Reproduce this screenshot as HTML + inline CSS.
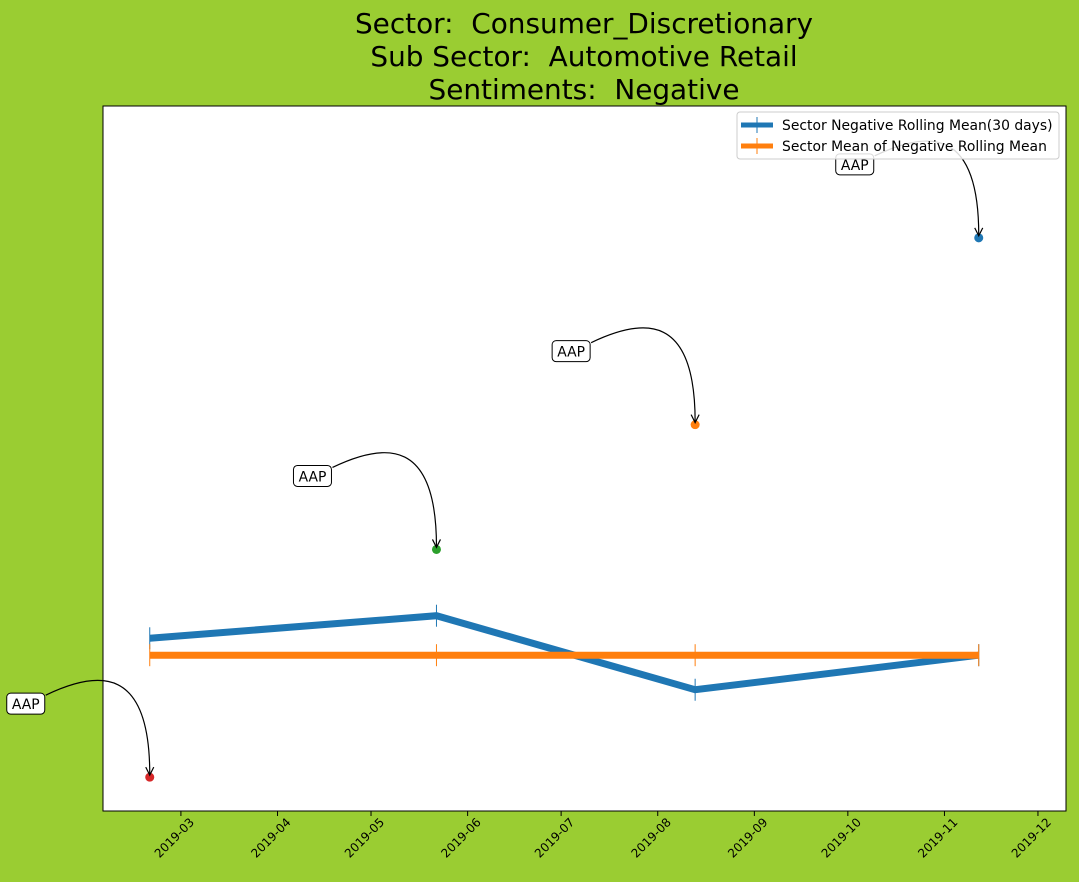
<!DOCTYPE html>
<html><head><meta charset="utf-8"><style>
body{margin:0;background:#9acd32;}
svg{display:block;font-family:"DejaVu Sans","Liberation Sans",sans-serif;}
</style></head><body>
<svg id="chart" width="1079" height="882" viewBox="0 0 1079 882" xmlns="http://www.w3.org/2000/svg">
<rect width="1079" height="882" fill="#9acd32"/>
<g font-size="27.9" text-anchor="middle" fill="#000" style="white-space:pre">
<text x="584" y="33" xml:space="preserve">Sector:  Consumer_Discretionary</text>
<text x="584" y="66" xml:space="preserve">Sub Sector:  Automotive Retail</text>
<text x="584" y="99" xml:space="preserve">Sentiments:  Negative</text>
</g>
<rect x="103" y="106" width="963" height="705" fill="#fff" stroke="#000" stroke-width="1"/>
<g id="xaxis"></g>
<g id="marks"></g>
<g id="ann"></g>
<g>
<rect x="737" y="112" width="322" height="47" rx="3" fill="#fff" fill-opacity="0.85" stroke="#ccc"/>
<line x1="741" y1="125" x2="773" y2="125" stroke="#1f77b4" stroke-width="5"/>
<line x1="757" y1="117" x2="757" y2="133" stroke="#1f77b4" stroke-width="1"/>
<text x="782" y="130" font-size="13.9">Sector Negative Rolling Mean(30 days)</text>
<line x1="741" y1="146" x2="773" y2="146" stroke="#ff7f0e" stroke-width="5"/>
<line x1="757" y1="138" x2="757" y2="154" stroke="#ff7f0e" stroke-width="1"/>
<text x="782" y="151" font-size="13.9">Sector Mean of Negative Rolling Mean</text>
</g>
</svg>
<script>
const dates = ["2019-02-19","2019-05-22","2019-08-13","2019-11-12"];
const rollingMean = [24.5, 27.7, 17.2, 22.1];
const meanOfMean = [22.1, 22.1, 22.1, 22.1];
const scatterValues = [4.8, 37.1, 54.8, 81.3];
const scatterColors = ["#d62728","#2ca02c","#ff7f0e","#1f77b4"];
const scatterLabels = ["AAP","AAP","AAP","AAP"];
const tickLabels = ["2019-03","2019-04","2019-05","2019-06","2019-07","2019-08","2019-09","2019-10","2019-11","2019-12"];

const NS="http://www.w3.org/2000/svg";
const d0=Date.UTC(2019,1,4), d1=Date.UTC(2019,11,10.6);
function xs(s){const [y,m,d]=s.split("-").map(Number);const t=Date.UTC(y,m-1,d||1);return 103+(t-d0)/(d1-d0)*963;}
function ys(v){return 811-v/100*705;}
function mk(tag,attrs,parent){const e=document.createElementNS(NS,tag);for(const k in attrs)e.setAttribute(k,attrs[k]);parent.appendChild(e);return e;}
const xa=document.getElementById("xaxis"), marks=document.getElementById("marks"), ann=document.getElementById("ann");
tickLabels.forEach(t=>{const x=xs(t);
 const l=mk("line",{x1:x,y1:811,x2:x,y2:816,stroke:"#000"},xa);
 
 
 const tx=mk("text",{x:0,y:0,"font-size":12,"text-anchor":"end",transform:`translate(${x+14},${823}) rotate(-45)`},xa);
 
 
 tx.textContent=t;});
function series(vals,color,name){
 const pts=dates.map((d,i)=>xs(d)+","+ys(vals[i])).join(" ");
 const p=mk("polyline",{points:pts,fill:"none",stroke:color,"stroke-width":7},marks);
 
 
 dates.forEach((d,i)=>{const m=mk("line",{x1:xs(d),x2:xs(d),y1:ys(vals[i])-11,y2:ys(vals[i])+11,stroke:color,"stroke-width":1},marks);
  
  });
}
series(rollingMean,"#1f77b4","rolling-mean-line");
series(meanOfMean,"#ff7f0e","mean-of-rolling-mean-line");
dates.forEach((d,i)=>{const x=xs(d),y=ys(scatterValues[i]);
 const c=mk("circle",{cx:x,cy:y,r:4.5,fill:scatterColors[i]},marks);
 
 
 const a=mk("path",{d:`M ${x-104} ${y-82} C ${x-50} ${y-108}, ${x} ${y-110}, ${x} ${y-3}`,fill:"none",stroke:"#000","stroke-width":1.2},ann);
 
 
 const h=mk("path",{d:`M ${x-4} ${y-10} L ${x} ${y-2} L ${x+4} ${y-10}`,fill:"none",stroke:"#000","stroke-width":1.2},ann);
 
 
 const b=mk("rect",{x:x-143,y:y-84,width:38,height:21,rx:4,fill:"#fff",stroke:"#000"},ann);
 
 
 const t=mk("text",{x:x-124,y:y-68,"font-size":13.9,"text-anchor":"middle"},ann);
 
 
 t.textContent=scatterLabels[i];});
</script>
</body></html>
